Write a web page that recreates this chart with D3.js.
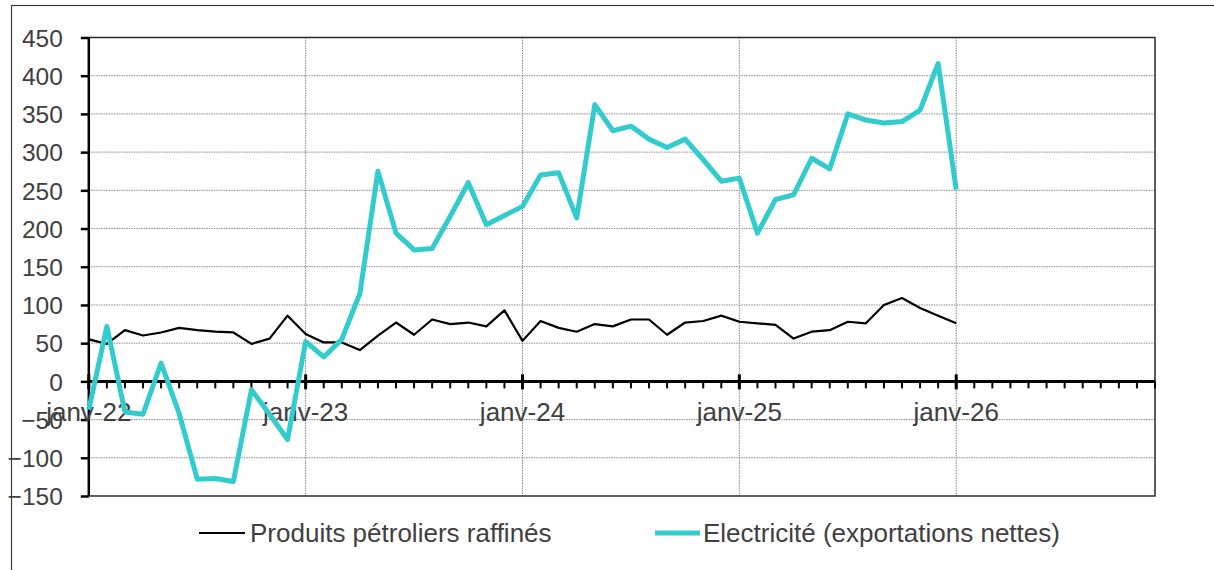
<!DOCTYPE html>
<html>
<head>
<meta charset="utf-8">
<script src="https://cdn.jsdelivr.net/npm/d3@7"></script>
<style>
  html, body { margin: 0; padding: 0; background: #fff; }
  svg { display: block; font-family: "Liberation Sans", Arial, sans-serif; }
</style>
</head>
<body>
<svg id="chart" width="1214" height="570"></svg>
<script>
// ---- data (monthly, janv-22 .. janv-26) ----
const months = d3.range(0, 49); // month index from janv-22
const electricite = [-37, 72, -40, -43, 24, -42, -128, -127, -131, -11, -43, -76,
  52, 32, 55, 115, 275, 194, 172, 174, 216, 260, 205, 217,
  229, 270, 273, 214, 362, 328, 334, 317, 306, 317, 290, 262,
  266, 194, 238, 244, 292, 278, 350, 342, 338, 340, 355, 416,
  251];
const produitsPetroliers = [55, 49, 67, 60, 64, 70, 67, 65, 64, 49, 56, 86,
  62, 51, 51, 41, 60, 77, 61, 81, 75, 77, 72, 93,
  53, 79, 70, 65, 75, 72, 81, 81, 61, 77, 79, 86,
  78, 76, 74, 56, 65, 67, 78, 76, 100, 109, 96, 86,
  76];
const yearTickIdx = [0, 12, 24, 36, 48];
const yearTickLabels = ["janv-22", "janv-23", "janv-24", "janv-25", "janv-26"];
const yTicks = [-150, -100, -50, 0, 50, 100, 150, 200, 250, 300, 350, 400, 450];
const seriesNames = ["Produits pétroliers raffinés", "Electricité (exportations nettes)"];

// ---- layout ----
const svg = d3.select("#chart");
const L = 88.8, R = 1155, T = 37.5, B = 496;
const x = d3.scaleLinear().domain([0, 59]).range([L, R]);
const y = d3.scaleLinear().domain([-150, 450]).range([B, T]);
const textCol = "#404040";

// outer chart border
svg.append("rect").attr("x", 11.5).attr("y", 5.5).attr("width", 1220).attr("height", 600)
  .attr("fill", "none").attr("stroke", "#3a3a3a").attr("stroke-width", 1.2);

// horizontal gridlines
svg.append("g").selectAll("line").data(yTicks.filter(v => v !== 0 && v !== -150 && v !== 450))
  .join("line")
  .attr("x1", L).attr("x2", R)
  .attr("y1", d => y(d)).attr("y2", d => y(d))
  .attr("stroke", "#8a8a8a").attr("stroke-width", 1).attr("stroke-dasharray", "1.5,1");

// vertical gridlines at years
svg.append("g").selectAll("line").data(yearTickIdx.filter(d => d > 0))
  .join("line")
  .attr("x1", d => x(d)).attr("x2", d => x(d))
  .attr("y1", T).attr("y2", B)
  .attr("stroke", "#8a8a8a").attr("stroke-width", 1).attr("stroke-dasharray", "1.5,1");

// plot border (top, right, bottom)
svg.append("path")
  .attr("d", `M${L},${T}H${R}V${B}H${L}`)
  .attr("fill", "none").attr("stroke", "#2a2a2a").attr("stroke-width", 1.5);

// y axis
const yAxis = d3.axisLeft(y).tickValues(yTicks).tickSize(8).tickPadding(18).tickFormat(d3.format("d"));
const gy = svg.append("g").attr("transform", `translate(${L},0)`).call(yAxis);
gy.select(".domain").attr("stroke", "#000").attr("stroke-width", 2.5).attr("d", `M0,${T}V${B}`);
gy.selectAll(".tick line").attr("stroke", "#000").attr("stroke-width", 2.5);
gy.selectAll(".tick text").attr("fill", textCol).style("font-size", "24.5px")
  .attr("x", -26).attr("dy", "0.36em");

// x axis at zero: minor monthly ticks
const zeroY = y(0);
const gx = svg.append("g");
gx.selectAll("line.minor").data(d3.range(0, 60)).join("line").attr("class", "minor")
  .attr("x1", d => x(d)).attr("x2", d => x(d))
  .attr("y1", zeroY).attr("y2", zeroY + 7)
  .attr("stroke", "#000").attr("stroke-width", 2);
gx.selectAll("line.major").data(yearTickIdx).join("line").attr("class", "major")
  .attr("x1", d => x(d)).attr("x2", d => x(d))
  .attr("y1", zeroY - 7).attr("y2", zeroY + 8)
  .attr("stroke", "#000").attr("stroke-width", 3);
gx.append("line").attr("x1", L).attr("x2", R).attr("y1", zeroY).attr("y2", zeroY)
  .attr("stroke", "#000").attr("stroke-width", 3);
gx.selectAll("text").data(yearTickIdx).join("text")
  .attr("x", d => x(d)).attr("y", 421)
  .attr("text-anchor", "middle").attr("fill", textCol).style("font-size", "26px")
  .text((d, i) => yearTickLabels[i]);

// lines
const line = d3.line().x((d, i) => x(months[i])).y(d => y(d));
svg.append("path").datum(produitsPetroliers)
  .attr("d", line).attr("fill", "none").attr("stroke", "#000").attr("stroke-width", 2.2)
  .attr("stroke-linejoin", "round");
svg.append("path").datum(electricite)
  .attr("d", line).attr("fill", "none").attr("stroke", "#33CCCC").attr("stroke-width", 5)
  .attr("stroke-linejoin", "round");

// legend
const legend = [
  { name: seriesNames[0], color: "#000", w: 2.2, x1: 199, x2: 245, tx: 250 },
  { name: seriesNames[1], color: "#33CCCC", w: 5, x1: 655, x2: 700, tx: 703 }
];
const lg = svg.append("g");
legend.forEach(d => {
  lg.append("line").attr("x1", d.x1).attr("x2", d.x2).attr("y1", 533).attr("y2", 533)
    .attr("stroke", d.color).attr("stroke-width", d.w);
  lg.append("text").attr("x", d.tx).attr("y", 542).attr("fill", textCol)
    .style("font-size", "26px").text(d.name);
});
</script>
</body>
</html>
